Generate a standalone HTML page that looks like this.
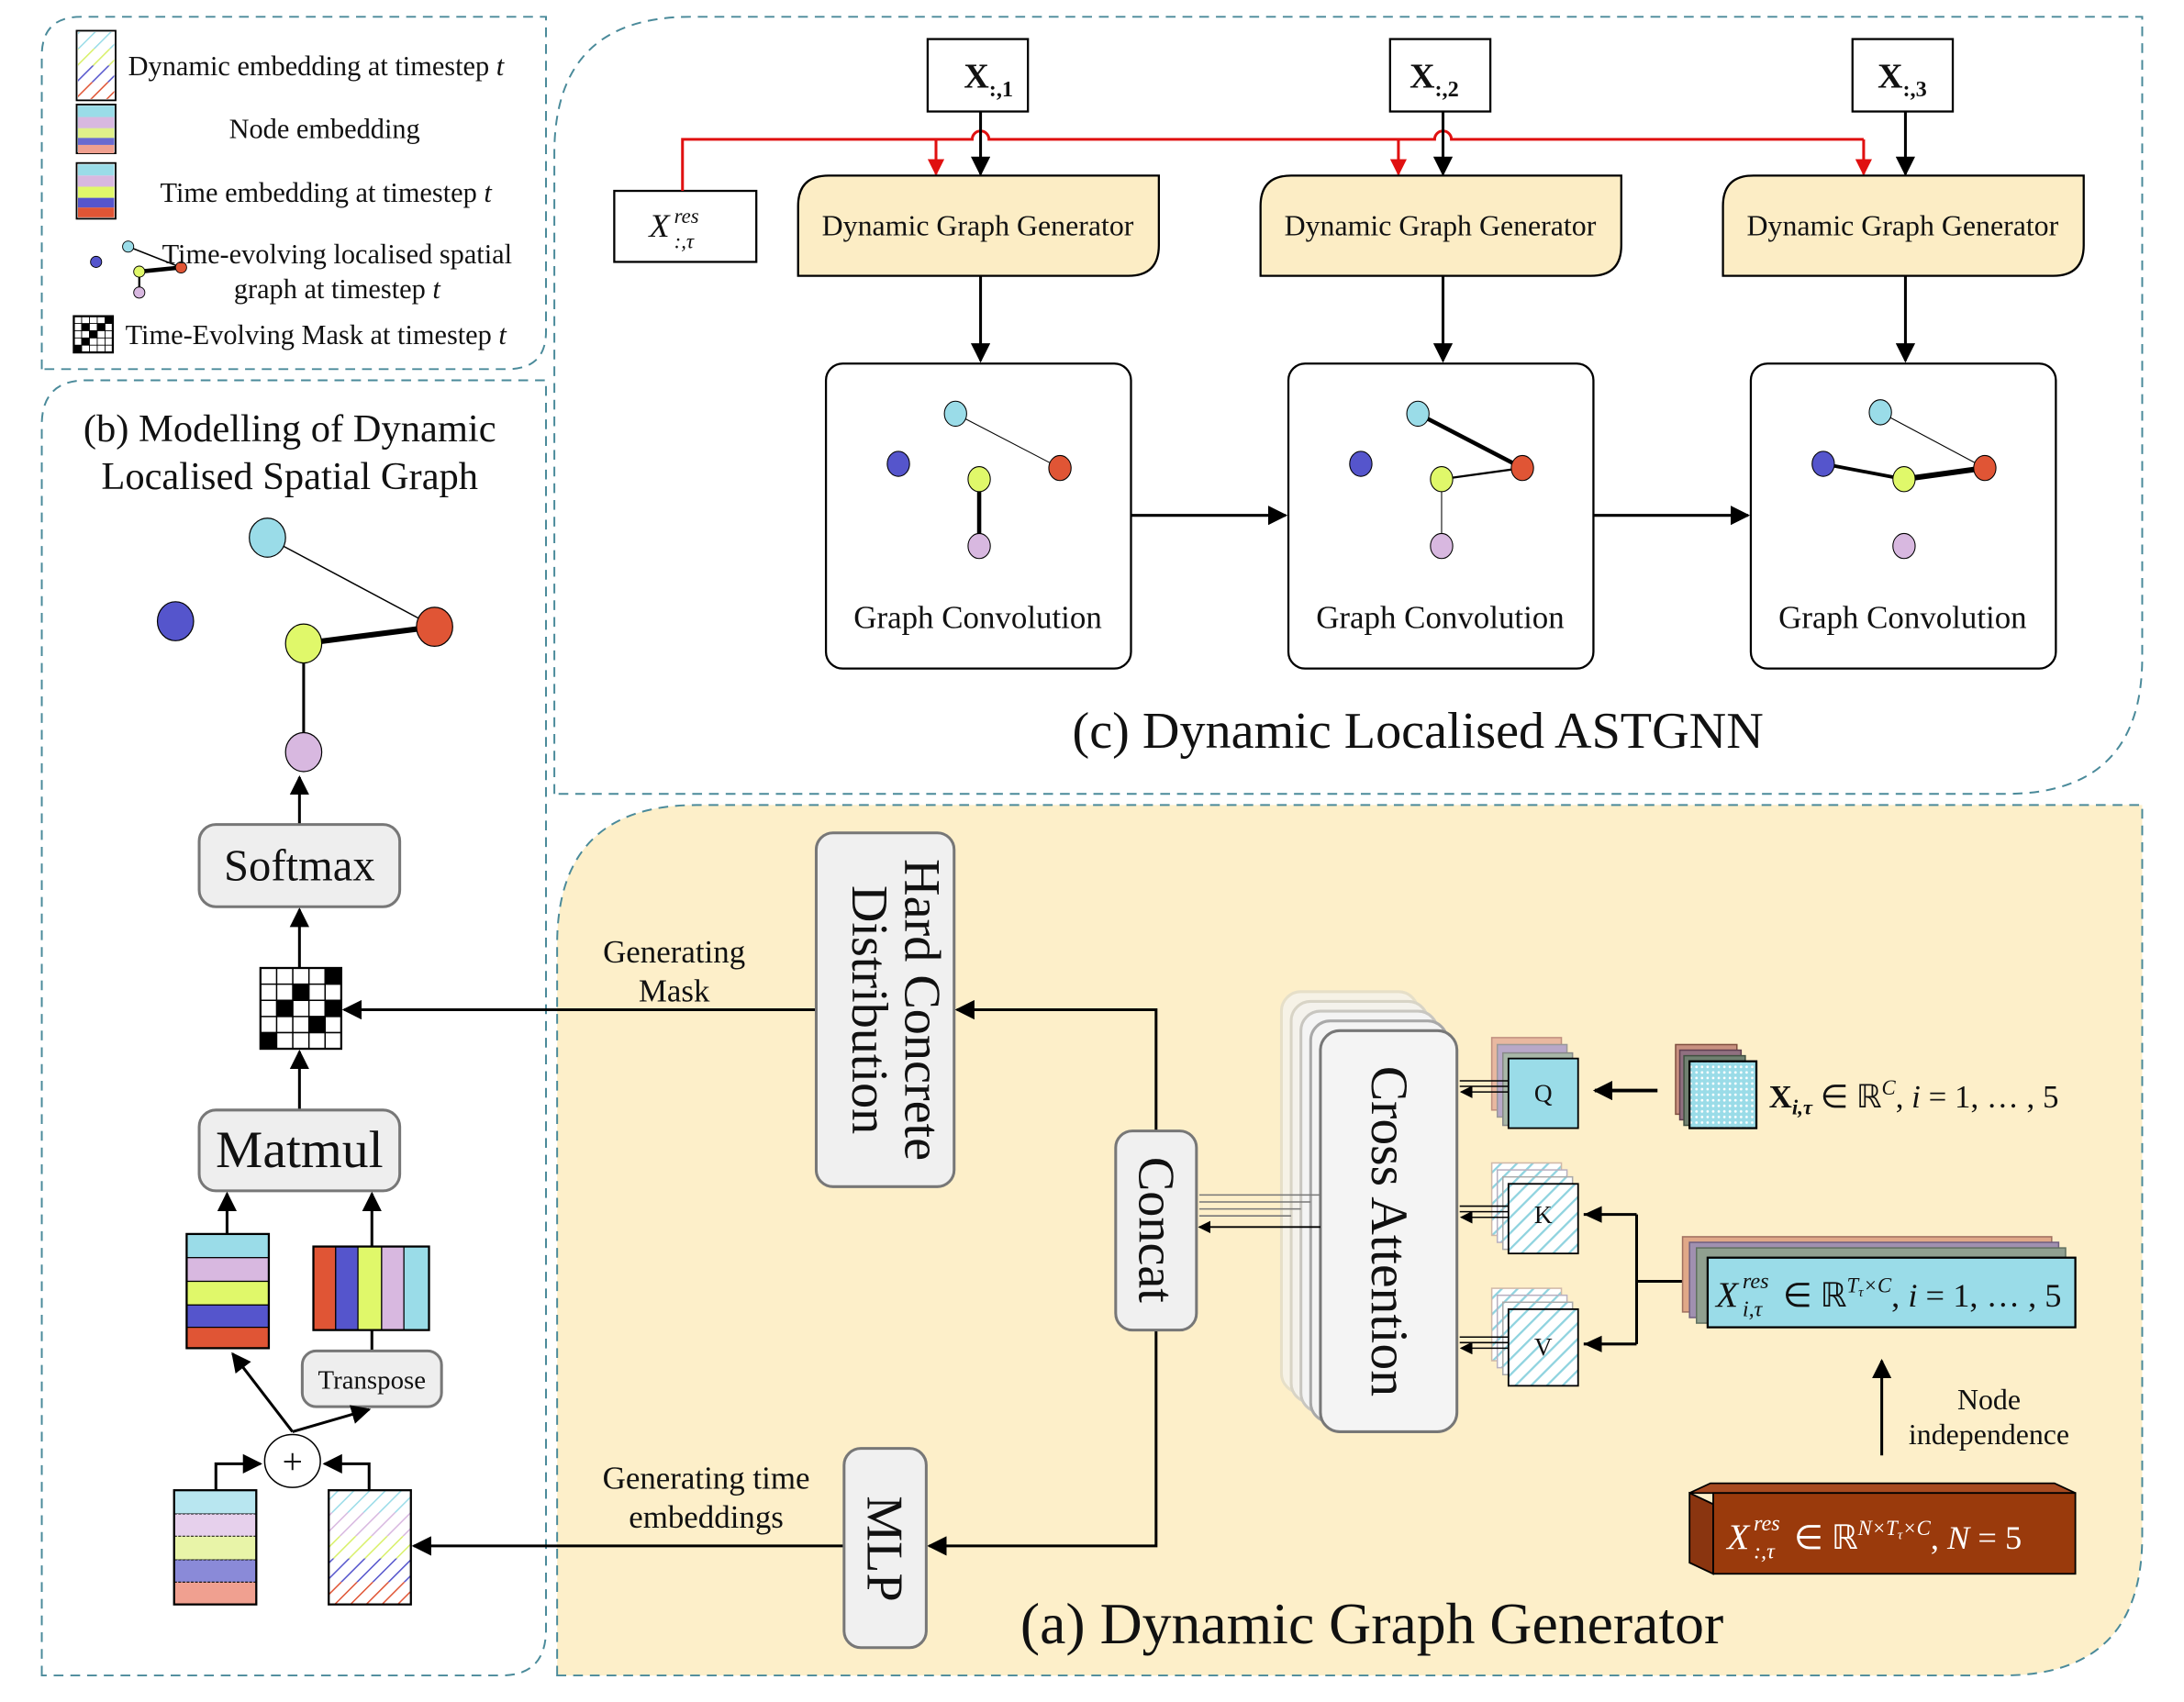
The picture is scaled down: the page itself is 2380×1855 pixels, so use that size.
<!DOCTYPE html>
<html><head><meta charset="utf-8"><style>
html,body{margin:0;padding:0;background:#fff;}
svg{display:block;}
text{font-family:"Liberation Serif",serif;fill:#111;}
</style></head><body>
<svg width="2380" height="1855" viewBox="0 0 1568 1222" xmlns="http://www.w3.org/2000/svg">
<defs>
<marker id="ah" viewBox="0 0 10 10" refX="9" refY="5" markerWidth="9" markerHeight="9" markerUnits="userSpaceOnUse" orient="auto"><path d="M0,0L10,5L0,10z" fill="#000"/></marker>
<marker id="ahb" viewBox="0 0 10 10" refX="9" refY="5" markerWidth="14" markerHeight="14" markerUnits="userSpaceOnUse" orient="auto"><path d="M0,0L10,5L0,10z" fill="#000"/></marker>
<marker id="ahr" viewBox="0 0 10 10" refX="9" refY="5" markerWidth="12" markerHeight="12" markerUnits="userSpaceOnUse" orient="auto"><path d="M0,0L10,5L0,10z" fill="#e01010"/></marker>
<pattern id="hatch" width="8" height="8" patternUnits="userSpaceOnUse" patternTransform="rotate(45)"><rect width="8" height="8" fill="#fff"/><line x1="0" y1="0" x2="0" y2="8" stroke="#8fd3df" stroke-width="3"/></pattern>
<pattern id="h1" width="8" height="8" patternUnits="userSpaceOnUse" patternTransform="rotate(45)"><rect width="8" height="8" fill="#fff"/><line x1="0" y1="0" x2="0" y2="8" stroke="#9adce8" stroke-width="2"/></pattern>
<pattern id="h2" width="8" height="8" patternUnits="userSpaceOnUse" patternTransform="rotate(45)"><rect width="8" height="8" fill="#fff"/><line x1="0" y1="0" x2="0" y2="8" stroke="#d8b8e0" stroke-width="2"/></pattern>
<pattern id="h3" width="8" height="8" patternUnits="userSpaceOnUse" patternTransform="rotate(45)"><rect width="8" height="8" fill="#fff"/><line x1="0" y1="0" x2="0" y2="8" stroke="#d8f06a" stroke-width="2"/></pattern>
<pattern id="h4" width="8" height="8" patternUnits="userSpaceOnUse" patternTransform="rotate(45)"><rect width="8" height="8" fill="#fff"/><line x1="0" y1="0" x2="0" y2="8" stroke="#5555cc" stroke-width="2"/></pattern>
<pattern id="h5" width="8" height="8" patternUnits="userSpaceOnUse" patternTransform="rotate(45)"><rect width="8" height="8" fill="#fff"/><line x1="0" y1="0" x2="0" y2="8" stroke="#e05535" stroke-width="2"/></pattern>
<pattern id="dots" width="4" height="4" patternUnits="userSpaceOnUse"><rect width="4" height="4" fill="#9adce8"/><circle cx="2" cy="2" r="0.9" fill="#fff"/></pattern>
</defs>

<!-- panels -->
<path d="M30,265 L30,40 Q30,12 58,12 L392,12 L392,238 Q392,265 364,265 Z" fill="none" stroke="#4a8a9a" stroke-width="1.3" stroke-dasharray="7,5"/>
<path d="M30,1203 L30,305 Q30,273 62,273 L392,273 L392,1170 Q392,1203 360,1203 Z" fill="none" stroke="#4a8a9a" stroke-width="1.3" stroke-dasharray="7,5"/>
<path d="M398,570 L398,110 Q398,12 496,12 L1538,12 L1538,472 Q1538,570 1440,570 Z" fill="none" stroke="#4a8a9a" stroke-width="1.3" stroke-dasharray="7,5"/>
<path d="M400,1203 L400,678 Q400,578 500,578 L1538,578 L1538,1103 Q1538,1203 1438,1203 Z" fill="#fdefc9" stroke="#4a8a9a" stroke-width="1.3" stroke-dasharray="7,5"/>

<!-- legend -->
<rect x="55" y="22" width="28" height="50" fill="#fff" stroke="#000" stroke-width="1.2"/>
<rect x="56" y="23" width="26" height="12" fill="url(#h1)"/><rect x="56" y="35" width="26" height="12" fill="url(#h3)"/><rect x="56" y="47" width="26" height="12" fill="url(#h4)"/><rect x="56" y="59" width="26" height="12" fill="url(#h5)"/>
<text x="92" y="54" font-size="20">Dynamic embedding at timestep <tspan font-style="italic">t</tspan></text>
<rect x="55" y="75" width="28" height="35" fill="#c4e0e8" stroke="#000" stroke-width="1.2"/>
<rect x="56" y="76" width="26" height="8" fill="#9adce8"/><rect x="56" y="84" width="26" height="8" fill="#d8b8e0"/><rect x="56" y="92" width="26" height="7" fill="#e0f08a"/><rect x="56" y="99" width="26" height="5" fill="#6a6ad0"/><rect x="56" y="104" width="26" height="6" fill="#f0a090"/>
<text x="233" y="99" font-size="20" text-anchor="middle">Node embedding</text>
<rect x="55" y="117" width="28" height="40" fill="#fff" stroke="#000" stroke-width="1.2"/>
<rect x="56" y="118" width="26" height="8" fill="#9adce8"/><rect x="56" y="126" width="26" height="8" fill="#d8b8e0"/><rect x="56" y="134" width="26" height="8" fill="#e0f86a"/><rect x="56" y="142" width="26" height="7" fill="#5555cc"/><rect x="56" y="149" width="26" height="7" fill="#e05535"/>
<text x="234" y="145" font-size="20" text-anchor="middle">Time embedding at timestep <tspan font-style="italic">t</tspan></text>
<line x1="92" y1="177" x2="130" y2="192" stroke="#000"/><line x1="100" y1="195" x2="130" y2="192" stroke="#000" stroke-width="3"/><line x1="100" y1="195" x2="100" y2="210" stroke="#000" stroke-width="1.5"/>
<circle cx="92" cy="177" r="4" fill="#9adce8" stroke="#000" stroke-width=".6"/><circle cx="69" cy="188" r="4" fill="#5555cc" stroke="#000" stroke-width=".6"/><circle cx="130" cy="192" r="4" fill="#e05535" stroke="#000" stroke-width=".6"/><circle cx="100" cy="195" r="4" fill="#e0f86a" stroke="#000" stroke-width=".6"/><circle cx="100" cy="210" r="4" fill="#d8b8e0" stroke="#000" stroke-width=".6"/>
<text x="242" y="189" font-size="20" text-anchor="middle">Time-evolving localised spatial</text>
<text x="242" y="214" font-size="20" text-anchor="middle">graph at timestep <tspan font-style="italic">t</tspan></text>
<g transform="translate(53,227)"><rect width="28" height="26" fill="#fff" stroke="#000" stroke-width="1.5"/>
<g fill="#000"><rect x="5.6" y="5.2" width="5.6" height="5.2"/><rect x="16.8" y="5.2" width="5.6" height="5.2"/><rect x="11.2" y="10.4" width="5.6" height="5.2"/><rect x="5.6" y="15.6" width="5.6" height="5.2"/><rect x="0" y="20.8" width="5.6" height="5.2"/><rect x="22.4" y="0" width="5.6" height="5.2"/></g>
<g stroke="#000" stroke-width=".6"><line x1="5.6" y1="0" x2="5.6" y2="26"/><line x1="11.2" y1="0" x2="11.2" y2="26"/><line x1="16.8" y1="0" x2="16.8" y2="26"/><line x1="22.4" y1="0" x2="22.4" y2="26"/><line x1="0" y1="5.2" x2="28" y2="5.2"/><line x1="0" y1="10.4" x2="28" y2="10.4"/><line x1="0" y1="15.6" x2="28" y2="15.6"/><line x1="0" y1="20.8" x2="28" y2="20.8"/></g></g>
<text x="90" y="247" font-size="20">Time-Evolving Mask at timestep <tspan font-style="italic">t</tspan></text>

<!-- (b) -->
<text x="208" y="317" font-size="28" text-anchor="middle">(b) Modelling of Dynamic</text>
<text x="208" y="351" font-size="28" text-anchor="middle">Localised Spatial Graph</text>
<line x1="192" y1="386" x2="312" y2="450" stroke="#000" stroke-width="1"/>
<line x1="218" y1="462" x2="312" y2="450" stroke="#000" stroke-width="4"/>
<line x1="218" y1="462" x2="218" y2="540" stroke="#000" stroke-width="2"/>
<ellipse cx="192" cy="386" rx="13" ry="14" fill="#9adce8" stroke="#000" stroke-width=".8"/>
<ellipse cx="126" cy="446" rx="13" ry="14" fill="#5555cc" stroke="#000" stroke-width=".8"/>
<ellipse cx="312" cy="450" rx="13" ry="14" fill="#e05535" stroke="#000" stroke-width=".8"/>
<ellipse cx="218" cy="462" rx="13" ry="14" fill="#e0f86a" stroke="#000" stroke-width=".8"/>
<ellipse cx="218" cy="540" rx="13" ry="14" fill="#d8b8e0" stroke="#000" stroke-width=".8"/>
<line x1="215" y1="592" x2="215" y2="558" stroke="#000" stroke-width="2" marker-end="url(#ahb)"/>
<rect x="143" y="592" width="144" height="59" rx="12" fill="#eeeeee" stroke="#777" stroke-width="2"/>
<text x="215" y="632" font-size="32" text-anchor="middle">Softmax</text>
<line x1="215" y1="695" x2="215" y2="653" stroke="#000" stroke-width="2" marker-end="url(#ahb)"/>
<g transform="translate(187,695)"><rect width="58" height="58" fill="#fff" stroke="#000" stroke-width="1.5"/>
<g fill="#000"><rect x="46.4" y="0" width="11.6" height="11.6"/><rect x="23.2" y="11.6" width="11.6" height="11.6"/><rect x="11.6" y="23.2" width="11.6" height="11.6"/><rect x="46.4" y="23.2" width="11.6" height="11.6"/><rect x="34.8" y="34.8" width="11.6" height="11.6"/><rect x="0" y="46.4" width="11.6" height="11.6"/></g>
<g stroke="#000" stroke-width="1"><line x1="11.6" y1="0" x2="11.6" y2="58"/><line x1="23.2" y1="0" x2="23.2" y2="58"/><line x1="34.8" y1="0" x2="34.8" y2="58"/><line x1="46.4" y1="0" x2="46.4" y2="58"/><line x1="0" y1="11.6" x2="58" y2="11.6"/><line x1="0" y1="23.2" x2="58" y2="23.2"/><line x1="0" y1="34.8" x2="58" y2="34.8"/><line x1="0" y1="46.4" x2="58" y2="46.4"/></g></g>
<line x1="215" y1="797" x2="215" y2="755" stroke="#000" stroke-width="2" marker-end="url(#ahb)"/>
<rect x="143" y="797" width="144" height="58" rx="12" fill="#eeeeee" stroke="#777" stroke-width="2"/>
<text x="215" y="838" font-size="38" text-anchor="middle">Matmul</text>
<line x1="163" y1="886" x2="163" y2="857" stroke="#000" stroke-width="2" marker-end="url(#ahb)"/>
<line x1="267" y1="895" x2="267" y2="857" stroke="#000" stroke-width="2" marker-end="url(#ahb)"/>
<g stroke="#000" stroke-width=".8"><rect x="134" y="886" width="59" height="17" fill="#9adce8"/><rect x="134" y="903" width="59" height="17" fill="#d8b8e0"/><rect x="134" y="920" width="59" height="17" fill="#e0f86a"/><rect x="134" y="937" width="59" height="16" fill="#5555cc"/><rect x="134" y="953" width="59" height="15" fill="#e05535"/></g>
<rect x="134" y="886" width="59" height="82" fill="none" stroke="#000" stroke-width="1.5"/>
<g stroke="#000" stroke-width=".8"><rect x="225" y="895" width="16" height="60" fill="#e05535"/><rect x="241" y="895" width="16" height="60" fill="#5555cc"/><rect x="257" y="895" width="17" height="60" fill="#e0f86a"/><rect x="274" y="895" width="16" height="60" fill="#d8b8e0"/><rect x="290" y="895" width="18" height="60" fill="#9adce8"/></g>
<rect x="225" y="895" width="83" height="60" fill="none" stroke="#000" stroke-width="1.5"/>
<line x1="267" y1="970" x2="267" y2="955" stroke="#000" stroke-width="2"/>
<rect x="217" y="970" width="100" height="40" rx="10" fill="#eeeeee" stroke="#777" stroke-width="2"/>
<text x="267" y="997" font-size="19" text-anchor="middle">Transpose</text>
<line x1="210" y1="1028" x2="167" y2="972" stroke="#000" stroke-width="2" marker-end="url(#ahb)"/>
<line x1="210" y1="1028" x2="265" y2="1012" stroke="#000" stroke-width="2" marker-end="url(#ahb)"/>
<ellipse cx="210" cy="1049" rx="20" ry="19" fill="#fff" stroke="#000" stroke-width="1"/>
<text x="210" y="1058" font-size="26" text-anchor="middle">+</text>
<path d="M155,1070 L155,1051 L187,1051" fill="none" stroke="#000" stroke-width="2" marker-end="url(#ahb)"/>
<path d="M265,1070 L265,1051 L233,1051" fill="none" stroke="#000" stroke-width="2" marker-end="url(#ahb)"/>
<g stroke="#000" stroke-width=".6" stroke-dasharray="2,1"><rect x="125" y="1070" width="59" height="17" fill="#b8e6f0"/><rect x="125" y="1087" width="59" height="16" fill="#e6d0ec"/><rect x="125" y="1103" width="59" height="17" fill="#e8f4a8"/><rect x="125" y="1120" width="59" height="16" fill="#8a8ad8"/><rect x="125" y="1136" width="59" height="16" fill="#f0a090"/></g>
<rect x="125" y="1070" width="59" height="82" fill="none" stroke="#000" stroke-width="1.5"/>
<rect x="236" y="1070" width="59" height="16" fill="url(#h1)"/><rect x="236" y="1086" width="59" height="17" fill="url(#h2)"/><rect x="236" y="1103" width="59" height="16" fill="url(#h3)"/><rect x="236" y="1119" width="59" height="17" fill="url(#h4)"/><rect x="236" y="1136" width="59" height="16" fill="url(#h5)"/>
<rect x="236" y="1070" width="59" height="82" fill="none" stroke="#000" stroke-width="1.5"/>
<line x1="606" y1="1110" x2="297" y2="1110" stroke="#000" stroke-width="2" marker-end="url(#ahb)"/>

<!-- (c) -->
<g stroke="#000" stroke-width="1.5" fill="#fff"><rect x="666" y="28" width="72" height="52"/><rect x="998" y="28" width="72" height="52"/><rect x="1330" y="28" width="72" height="52"/><rect x="441" y="137" width="102" height="51"/></g>
<text x="692" y="63" font-size="25" font-weight="bold">X<tspan font-size="16" dy="6">:,1</tspan></text>
<text x="1012" y="63" font-size="25" font-weight="bold">X<tspan font-size="16" dy="6">:,2</tspan></text>
<text x="1348" y="63" font-size="25" font-weight="bold">X<tspan font-size="16" dy="6">:,3</tspan></text>
<text x="466" y="170" font-size="24" font-style="italic">X</text>
<text x="484" y="160" font-size="15" font-style="italic">res</text>
<text x="484" y="178" font-size="15" font-style="italic">:,τ</text>
<path d="M490,137 L490,100 L698,100 A6,6 0 0 1 710,100 L1030,100 A6,6 0 0 1 1042,100 L1338,100" fill="none" stroke="#e01010" stroke-width="2"/>
<line x1="672" y1="100" x2="672" y2="125" stroke="#e01010" stroke-width="2" marker-end="url(#ahr)"/>
<line x1="1004" y1="100" x2="1004" y2="125" stroke="#e01010" stroke-width="2" marker-end="url(#ahr)"/>
<line x1="1338" y1="100" x2="1338" y2="125" stroke="#e01010" stroke-width="2" marker-end="url(#ahr)"/>
<line x1="704" y1="80" x2="704" y2="125" stroke="#000" stroke-width="2" marker-end="url(#ahb)"/>
<line x1="1036" y1="80" x2="1036" y2="125" stroke="#000" stroke-width="2" marker-end="url(#ahb)"/>
<line x1="1368" y1="80" x2="1368" y2="125" stroke="#000" stroke-width="2" marker-end="url(#ahb)"/>
<g fill="#fcedc5" stroke="#000" stroke-width="1.5">
<path d="M573,198 L573,148 Q573,126 595,126 L832,126 L832,176 Q832,198 810,198 Z"/>
<path d="M905,198 L905,148 Q905,126 927,126 L1164,126 L1164,176 Q1164,198 1142,198 Z"/>
<path d="M1237,198 L1237,148 Q1237,126 1259,126 L1496,126 L1496,176 Q1496,198 1474,198 Z"/></g>
<g font-size="21" text-anchor="middle"><text x="702" y="169">Dynamic Graph Generator</text><text x="1034" y="169">Dynamic Graph Generator</text><text x="1366" y="169">Dynamic Graph Generator</text></g>
<g stroke="#000" stroke-width="2"><line x1="704" y1="198" x2="704" y2="259" marker-end="url(#ahb)"/><line x1="1036" y1="198" x2="1036" y2="259" marker-end="url(#ahb)"/><line x1="1368" y1="198" x2="1368" y2="259" marker-end="url(#ahb)"/>
<line x1="812" y1="370" x2="923" y2="370" marker-end="url(#ahb)"/><line x1="1144" y1="370" x2="1255" y2="370" marker-end="url(#ahb)"/></g>
<g fill="#fff" stroke="#000" stroke-width="1.5"><rect x="593" y="261" width="219" height="219" rx="12"/><rect x="925" y="261" width="219" height="219" rx="12"/><rect x="1257" y="261" width="219" height="219" rx="12"/></g>
<g font-size="23" text-anchor="middle"><text x="702" y="451">Graph Convolution</text><text x="1034" y="451">Graph Convolution</text><text x="1366" y="451">Graph Convolution</text></g>
<line x1="686" y1="297" x2="761" y2="336" stroke="#000" stroke-width=".7"/><line x1="703" y1="344" x2="703" y2="392" stroke="#000" stroke-width="3"/>
<line x1="1018" y1="297" x2="1093" y2="336" stroke="#000" stroke-width="3"/><line x1="1035" y1="344" x2="1093" y2="336" stroke="#000" stroke-width="1.5"/><line x1="1035" y1="344" x2="1035" y2="392" stroke="#000" stroke-width=".7"/>
<line x1="1350" y1="296" x2="1425" y2="336" stroke="#000" stroke-width=".7"/><line x1="1309" y1="333" x2="1367" y2="344" stroke="#000" stroke-width="2.5"/><line x1="1367" y1="344" x2="1425" y2="336" stroke="#000" stroke-width="4"/>
<g stroke="#000" stroke-width=".7">
<ellipse cx="686" cy="297" rx="8" ry="9" fill="#9adce8"/><ellipse cx="645" cy="333" rx="8" ry="9" fill="#5555cc"/><ellipse cx="761" cy="336" rx="8" ry="9" fill="#e05535"/><ellipse cx="703" cy="344" rx="8" ry="9" fill="#e0f86a"/><ellipse cx="703" cy="392" rx="8" ry="9" fill="#d8b8e0"/>
<ellipse cx="1018" cy="297" rx="8" ry="9" fill="#9adce8"/><ellipse cx="977" cy="333" rx="8" ry="9" fill="#5555cc"/><ellipse cx="1093" cy="336" rx="8" ry="9" fill="#e05535"/><ellipse cx="1035" cy="344" rx="8" ry="9" fill="#e0f86a"/><ellipse cx="1035" cy="392" rx="8" ry="9" fill="#d8b8e0"/>
<ellipse cx="1350" cy="296" rx="8" ry="9" fill="#9adce8"/><ellipse cx="1309" cy="333" rx="8" ry="9" fill="#5555cc"/><ellipse cx="1425" cy="336" rx="8" ry="9" fill="#e05535"/><ellipse cx="1367" cy="344" rx="8" ry="9" fill="#e0f86a"/><ellipse cx="1367" cy="392" rx="8" ry="9" fill="#d8b8e0"/></g>
<text x="1018" y="537" font-size="37" text-anchor="middle">(c) Dynamic Localised ASTGNN</text>

<!-- (a) -->
<text x="484" y="691" font-size="23" text-anchor="middle">Generating</text>
<text x="484" y="719" font-size="23" text-anchor="middle">Mask</text>
<line x1="586" y1="725" x2="247" y2="725" stroke="#000" stroke-width="2" marker-end="url(#ahb)"/>
<rect x="586" y="598" width="99" height="254" rx="12" fill="#f0f0f0" stroke="#777" stroke-width="2"/>
<text transform="translate(650,725) rotate(90)" font-size="37" text-anchor="middle">Hard Concrete</text>
<text transform="translate(612,725) rotate(90)" font-size="37" text-anchor="middle">Distribution</text>
<path d="M830,812 L830,725 L687,725" fill="none" stroke="#000" stroke-width="2" marker-end="url(#ahb)"/>
<path d="M830,955 L830,1110 L667,1110" fill="none" stroke="#000" stroke-width="2" marker-end="url(#ahb)"/>
<rect x="801" y="812" width="58" height="143" rx="12" fill="#f0f0f0" stroke="#777" stroke-width="2"/>
<text transform="translate(818,883) rotate(90)" font-size="37" text-anchor="middle">Concat</text>
<rect x="606" y="1040" width="59" height="143" rx="12" fill="#f0f0f0" stroke="#777" stroke-width="2"/>
<text transform="translate(623,1112) rotate(90)" font-size="37" text-anchor="middle">MLP</text>
<text x="507" y="1069" font-size="23" text-anchor="middle">Generating time</text>
<text x="507" y="1097" font-size="23" text-anchor="middle">embeddings</text>
<g stroke-width="2" fill="#f4f4f4">
<rect x="920" y="712" width="98" height="288" rx="14" stroke="#e6dfc8" fill="#f6f2e6"/>
<rect x="927" y="719" width="98" height="288" rx="14" stroke="#d8d4c6" fill="#f4f2ec"/>
<rect x="934" y="726" width="98" height="288" rx="14" stroke="#c8c6c0"/>
<rect x="941" y="733" width="98" height="288" rx="14" stroke="#a8a8a8"/>
<rect x="948" y="740" width="98" height="288" rx="14" stroke="#777"/></g>
<text transform="translate(985,884) rotate(90)" font-size="38" text-anchor="middle">Cross Attention</text>
<g stroke="#777" stroke-width="1"><line x1="948" y1="858" x2="861" y2="858"/><line x1="941" y1="863" x2="861" y2="863"/><line x1="934" y1="868" x2="861" y2="868"/><line x1="927" y1="873" x2="861" y2="873"/></g>
<line x1="948" y1="881" x2="861" y2="881" stroke="#000" stroke-width="1.2" marker-end="url(#ah)"/>
<g stroke-width="1">
<rect x="1071" y="745" width="50" height="52" fill="#e8b8a0" stroke="#c09080"/><rect x="1075" y="750" width="50" height="52" fill="#b8a8c8" stroke="#999"/><rect x="1079" y="756" width="50" height="52" fill="#a8b8a8" stroke="#888"/>
<rect x="1083" y="760" width="50" height="50" fill="#9adce8" stroke="#000" stroke-width="1.2"/>
<rect x="1071" y="835" width="50" height="52" fill="url(#hatch)" stroke="#d0b8a8"/><rect x="1075" y="840" width="50" height="52" fill="url(#hatch)" stroke="#b8b0c0"/><rect x="1079" y="845" width="50" height="52" fill="url(#hatch)" stroke="#aaa"/>
<rect x="1083" y="850" width="50" height="50" fill="url(#hatch)" stroke="#000" stroke-width="1.2"/>
<rect x="1071" y="925" width="50" height="52" fill="url(#hatch)" stroke="#d0b8a8"/><rect x="1075" y="930" width="50" height="52" fill="url(#hatch)" stroke="#b8b0c0"/><rect x="1079" y="935" width="50" height="52" fill="url(#hatch)" stroke="#aaa"/>
<rect x="1083" y="940" width="50" height="55" fill="url(#hatch)" stroke="#000" stroke-width="1.2"/></g>
<g font-size="18" text-anchor="middle"><text x="1108" y="791">Q</text><text x="1108" y="878">K</text><text x="1108" y="973">V</text></g>
<g stroke="#000" stroke-width="1"><line x1="1083" y1="776" x2="1048" y2="776"/><line x1="1083" y1="780" x2="1048" y2="780"/><line x1="1083" y1="866" x2="1048" y2="866"/><line x1="1083" y1="870" x2="1048" y2="870"/><line x1="1083" y1="960" x2="1048" y2="960"/><line x1="1083" y1="964" x2="1048" y2="964"/></g>
<g stroke="#000" stroke-width="1"><line x1="1083" y1="784" x2="1049" y2="784" marker-end="url(#ah)"/><line x1="1083" y1="874" x2="1049" y2="874" marker-end="url(#ah)"/><line x1="1083" y1="968" x2="1049" y2="968" marker-end="url(#ah)"/></g>
<line x1="1190" y1="783" x2="1145" y2="783" stroke="#000" stroke-width="2.5" marker-end="url(#ahb)"/>
<path d="M1208,920 L1175,920 M1175,872 L1175,965 M1175,872 L1137,872 M1175,965 L1137,965" stroke="#000" stroke-width="2" fill="none"/>
<path d="M1150,866 L1137,872 L1150,878 Z M1150,959 L1137,965 L1150,971 Z" fill="#000"/>
<rect x="1203" y="750" width="44" height="50" fill="#c89080" stroke="#805040"/><rect x="1206" y="754" width="44" height="50" fill="#907080" stroke="#604050"/><rect x="1209" y="758" width="44" height="50" fill="#708070" stroke="#405040"/>
<rect x="1213" y="762" width="48" height="48" fill="url(#dots)" stroke="#000" stroke-width="1.5"/>
<text x="1270" y="795" font-size="23"><tspan font-weight="bold">X</tspan><tspan font-size="15" dy="5" font-weight="bold" font-style="italic">i,τ</tspan><tspan dy="-5"> ∈ ℝ</tspan><tspan font-size="15" dy="-9" font-style="italic">C</tspan><tspan dy="9">, </tspan><tspan font-style="italic">i</tspan> = 1, … , 5</text>
<rect x="1208" y="888" width="265" height="54" fill="#e0a888" stroke="#a07060"/><rect x="1213" y="892" width="265" height="54" fill="#a090b0" stroke="#706080"/><rect x="1218" y="896" width="265" height="54" fill="#90a090" stroke="#607060"/>
<rect x="1226" y="903" width="264" height="50" fill="#9adce8" stroke="#000" stroke-width="1.5"/>
<text x="1232" y="938" font-size="26" font-style="italic">X</text>
<text x="1251" y="925" font-size="16" font-style="italic">res</text>
<text x="1251" y="945" font-size="16" font-style="italic">i,τ</text>
<text x="1280" y="938" font-size="24">∈ ℝ<tspan font-size="15" dy="-10" font-style="italic">T</tspan><tspan font-size="10" dy="3" font-style="italic">τ</tspan><tspan font-size="15" dy="-3" font-style="italic">×C</tspan><tspan dy="10">, </tspan><tspan font-style="italic">i</tspan> = 1, … , 5</text>
<line x1="1351" y1="1045" x2="1351" y2="977" stroke="#000" stroke-width="2" marker-end="url(#ahb)"/>
<text x="1428" y="1012" font-size="21" text-anchor="middle">Node</text>
<text x="1428" y="1037" font-size="21" text-anchor="middle">independence</text>
<path d="M1213,1072 L1228,1065 L1475,1065 L1490,1072 Z" fill="#a84a20" stroke="#000" stroke-width="1.2"/>
<path d="M1213,1072 L1230,1080 L1230,1130 L1213,1122 Z" fill="#8a3510" stroke="#000" stroke-width="1.2"/>
<rect x="1230" y="1072" width="260" height="58" fill="#9a3a0c" stroke="#000" stroke-width="1.2"/>
<g style="fill:#fff">
<text x="1240" y="1112" font-size="26" font-style="italic" style="fill:#fff">X</text>
<text x="1259" y="1099" font-size="16" font-style="italic" style="fill:#fff">res</text>
<text x="1259" y="1119" font-size="16" font-style="italic" style="fill:#fff">:,τ</text>
<text x="1288" y="1112" font-size="24" style="fill:#fff">∈ ℝ<tspan font-size="15" dy="-10" font-style="italic" style="fill:#fff">N×T</tspan><tspan font-size="10" dy="3" font-style="italic" style="fill:#fff">τ</tspan><tspan font-size="15" dy="-3" font-style="italic" style="fill:#fff">×C</tspan><tspan dy="10" style="fill:#fff">, </tspan><tspan font-style="italic" style="fill:#fff">N</tspan><tspan style="fill:#fff"> = 5</tspan></text></g>
<text x="985" y="1180" font-size="42" text-anchor="middle">(a) Dynamic Graph Generator</text>
</svg>
</body></html>
